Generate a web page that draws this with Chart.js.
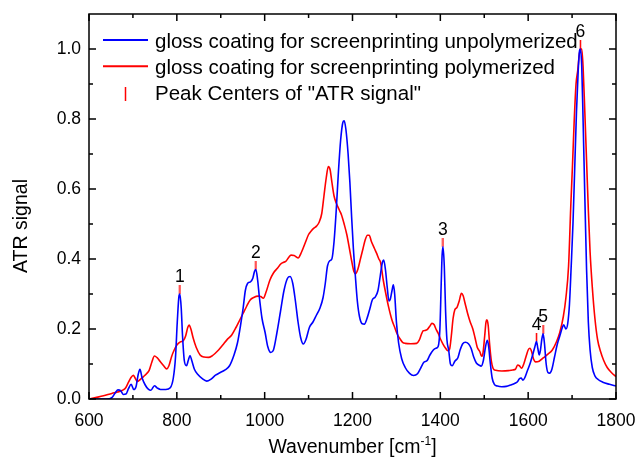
<!DOCTYPE html>
<html><head><meta charset="utf-8">
<script src="https://cdn.jsdelivr.net/npm/chart.js@4.4.0/dist/chart.umd.min.js"></script>
<style>html,body{margin:0;padding:0;background:#fff;}canvas{display:block;}</style>
</head><body>
<canvas id="c" width="637" height="460"></canvas>
<script>
// ---------- data ----------
const unpolyLabel = 'gloss coating for screenprinting unpolymerized';
const polyLabel = 'gloss coating for screenprinting polymerized';
const peakLegendLabel = 'Peak Centers of "ATR signal"';

const unpolyX = [
  600,640,652,660,666,672,678,684,690,696,
  702,707,712,716,721,728,735,741,749,755,
  763,775,785,792,797,801,805,807,810,813,
  817,822,826,830,834,840,848,858,868,878,
  888,898,910,920,930,938,945,951,956,961,
  968,973,977,980,984,988,994,1001,1007,1014,
  1020,1028,1036,1044,1052,1058,1064,1070,1076,1082,
  1088,1094,1102,1110,1118,1126,1133,1138,1143,1148,
  1153,1158,1163,1168,1173,1178,1181,1185,1190,1194,
  1198,1202,1206,1211,1216,1222,1227,1233,1240,1245,
  1252,1258,1263,1268,1271,1275,1279,1283,1286,1290,
  1293,1296,1300,1305,1312,1320,1330,1339,1348,1356,
  1362,1370,1376,1384,1390,1395,1399,1402,1404,1406,
  1409,1412,1415,1419,1423,1427,1433,1440,1445,1451,
  1457,1464,1470,1476,1482,1488,1493,1498,1503,1507,
  1510,1514,1518,1523,1530,1540,1550,1560,1570,1576,
  1580,1584,1588,1592,1598,1604,1610,1615,1619,1622,
  1625,1628,1631,1634,1637,1641,1645,1649,1654,1660,
  1666,1672,1678,1681,1686,1690,1694,1698,1702,1706,
  1710,1714,1717,1719,1722,1725,1729,1733,1737,1741,
  1746,1752,1760,1770,1785,1800];
const unpolyY = [
  0,0,0.004,0.018,0.026,0.024,0.013,0.014,0.03,0.042,
  0.027,0.035,0.07,0.085,0.06,0.04,0.028,0.025,0.038,0.032,
  0.027,0.027,0.032,0.06,0.12,0.22,0.295,0.30,0.26,0.18,
  0.11,0.095,0.11,0.124,0.11,0.085,0.07,0.058,0.051,0.057,
  0.068,0.075,0.083,0.095,0.125,0.16,0.21,0.26,0.31,0.33,
  0.335,0.345,0.365,0.37,0.34,0.29,0.23,0.19,0.15,0.133,
  0.14,0.19,0.25,0.31,0.345,0.35,0.33,0.28,0.22,0.175,
  0.157,0.17,0.205,0.22,0.24,0.26,0.29,0.33,0.38,0.395,
  0.40,0.45,0.54,0.65,0.74,0.79,0.795,0.77,0.70,0.62,
  0.52,0.43,0.36,0.28,0.235,0.215,0.214,0.23,0.26,0.283,
  0.292,0.31,0.35,0.39,0.397,0.37,0.32,0.28,0.285,0.31,
  0.326,0.30,0.22,0.16,0.115,0.09,0.073,0.067,0.072,0.09,
  0.104,0.11,0.125,0.14,0.145,0.15,0.2,0.33,0.41,0.435,
  0.38,0.25,0.17,0.14,0.10,0.095,0.108,0.118,0.14,0.158,
  0.162,0.158,0.145,0.12,0.103,0.097,0.094,0.11,0.15,0.168,
  0.15,0.10,0.06,0.042,0.037,0.035,0.036,0.04,0.045,0.05,
  0.058,0.06,0.054,0.06,0.08,0.10,0.125,0.148,0.164,0.145,
  0.126,0.14,0.17,0.186,0.16,0.10,0.076,0.074,0.085,0.12,
  0.155,0.18,0.205,0.212,0.20,0.215,0.27,0.38,0.50,0.66,
  0.82,0.94,0.995,1.0,0.95,0.80,0.58,0.37,0.22,0.14,
  0.09,0.066,0.055,0.048,0.042,0.037];

const polyX = [
  600,615,633,652,665,678,684,690,695,701,
  705,710,716,724,731,737,743,749,755,762,
  770,777,782,788,794,800,808,815,820,825,
  828,832,837,844,853,862,872,880,887,895,
  905,914,925,935,943,951,959,967,975,985,
  991,997,1003,1012,1020,1030,1036,1042,1048,1055,
  1060,1067,1076,1084,1092,1100,1106,1112,1118,1124,
  1130,1135,1140,1145,1149,1153,1158,1163,1170,1175,
  1181,1187,1193,1198,1203,1207,1212,1218,1224,1229,
  1234,1238,1243,1250,1255,1260,1264,1270,1276,1282,
  1290,1296,1301,1308,1314,1320,1333,1346,1352,1357,
  1361,1366,1370,1376,1381,1386,1390,1395,1400,1406,
  1412,1417,1421,1425,1429,1433,1438,1443,1448,1452,
  1456,1462,1468,1474,1479,1484,1490,1494,1497,1501,
  1504,1506,1509,1512,1516,1520,1526,1540,1555,1565,
  1571,1576,1580,1585,1590,1596,1600,1604,1608,1612,
  1617,1625,1635,1645,1655,1665,1672,1680,1686,1692,
  1697,1701,1705,1709,1713,1716,1719,1722,1725,1729,
  1733,1737,1741,1746,1752,1758,1765,1772,1780,1790,1800];
const polyY = [
  0,0.004,0.009,0.016,0.02,0.026,0.033,0.048,0.06,0.068,
  0.06,0.05,0.055,0.064,0.072,0.082,0.105,0.123,0.118,0.107,
  0.095,0.086,0.095,0.121,0.14,0.154,0.163,0.167,0.18,0.205,
  0.211,0.2,0.175,0.148,0.126,0.12,0.119,0.123,0.13,0.14,
  0.155,0.169,0.183,0.205,0.225,0.245,0.265,0.283,0.29,0.294,
  0.293,0.288,0.305,0.34,0.36,0.375,0.385,0.39,0.393,0.405,
  0.411,0.41,0.403,0.42,0.445,0.47,0.48,0.488,0.494,0.505,
  0.53,0.58,0.63,0.664,0.655,0.62,0.58,0.56,0.54,0.526,
  0.50,0.47,0.43,0.395,0.365,0.358,0.37,0.40,0.43,0.455,
  0.468,0.468,0.45,0.43,0.416,0.40,0.39,0.34,0.30,0.264,
  0.225,0.205,0.188,0.172,0.162,0.159,0.158,0.159,0.168,0.185,
  0.195,0.196,0.198,0.208,0.216,0.212,0.20,0.188,0.172,0.157,
  0.145,0.138,0.142,0.18,0.23,0.255,0.262,0.28,0.302,0.295,
  0.275,0.245,0.22,0.20,0.175,0.148,0.135,0.122,0.13,0.18,
  0.22,0.226,0.21,0.16,0.11,0.088,0.082,0.08,0.081,0.083,
  0.085,0.097,0.095,0.088,0.10,0.125,0.14,0.145,0.135,0.115,
  0.106,0.108,0.118,0.128,0.14,0.165,0.19,0.235,0.29,0.38,
  0.55,0.67,0.80,0.90,0.94,0.98,1.0,1.0,0.95,0.82,
  0.68,0.54,0.42,0.32,0.23,0.17,0.135,0.11,0.09,0.075,0.064];

const peakX = [807, 980, 1406, 1619, 1634, 1719];
const peakY = [0.30, 0.37, 0.435, 0.164, 0.186, 1.0];
const peakLabels = ['1', '2', '3', '4', '5', '6'];

const xTickVals = [600, 800, 1000, 1200, 1400, 1600, 1800];
const xMinorVals = [700, 900, 1100, 1300, 1500, 1700];
const yTickVals = [0, 0.2, 0.4, 0.6, 0.8, 1.0];
const yMinorVals = [0.1, 0.3, 0.5, 0.7, 0.9];

// ---------- styling helpers ----------
const FONT = '"Liberation Sans", Arial, sans-serif';
const BLUE = '#0000ff', RED = '#ff0000';
const MARK_LEN = 9;

function makeMarker(len, color) {
  const c = document.createElement('canvas');
  c.width = 3; c.height = len * 2;
  const g = c.getContext('2d');
  g.fillStyle = color;
  g.fillRect(0.75, 0, 1.5, len);
  return c;
}
const markerImg = makeMarker(MARK_LEN, RED);

const toPts = (xs, ys) => xs.map((x, i) => ({x: x, y: ys[i]}));

// ---------- plugins ----------
const frameTicks = {
  id: 'frameTicks',
  afterDatasetsDraw(chart) {
    const {ctx, chartArea: a, scales: {x, y}} = chart;
    ctx.save();
    ctx.strokeStyle = '#000';
    ctx.lineWidth = 1.5;
    ctx.beginPath();
    const vt = (vals, len) => vals.forEach(v => {
      const p = x.getPixelForValue(v);
      ctx.moveTo(p, a.bottom); ctx.lineTo(p, a.bottom - len);
      ctx.moveTo(p, a.top); ctx.lineTo(p, a.top + len);
    });
    const ht = (vals, len) => vals.forEach(v => {
      const p = y.getPixelForValue(v);
      ctx.moveTo(a.left, p); ctx.lineTo(a.left + len, p);
      ctx.moveTo(a.right, p); ctx.lineTo(a.right - len, p);
    });
    vt(xTickVals, 7); vt(xMinorVals, 4);
    ht(yTickVals, 7); ht(yMinorVals, 4);
    ctx.stroke();
    ctx.strokeRect(a.left, a.top, a.right - a.left, a.bottom - a.top);
    // peak labels
    const meta = chart.getDatasetMeta(2);
    ctx.fillStyle = '#000';
    ctx.font = '17.5px ' + FONT;
    ctx.textAlign = 'center';
    ctx.textBaseline = 'alphabetic';
    meta.data.forEach((el, i) => {
      ctx.fillText(peakLabels[i], el.x, el.y - MARK_LEN - 3);
    });
    ctx.restore();
  }
};

const legendAndTitles = {
  id: 'legendAndTitles',
  afterDraw(chart) {
    const {ctx, chartArea: a} = chart;
    const ds = chart.data.datasets;
    ctx.save();
    // legend
    ctx.font = '20.5px ' + FONT;
    ctx.fillStyle = '#000';
    ctx.textAlign = 'left';
    ctx.textBaseline = 'alphabetic';
    const sx0 = a.left + 14, sx1 = a.left + 59, tx = a.left + 66;
    const rows = [a.top + 33.5, a.top + 59.8, a.top + 86];
    [0, 1].forEach(i => {
      ctx.strokeStyle = ds[i].borderColor;
      ctx.lineWidth = 2;
      ctx.beginPath();
      ctx.moveTo(sx0, rows[i] - 7.5); ctx.lineTo(sx1, rows[i] - 7.5);
      ctx.stroke();
      ctx.fillText(ds[i].label, tx, rows[i]);
    });
    ctx.strokeStyle = RED; ctx.lineWidth = 1.5;
    ctx.beginPath();
    const mx = (sx0 + sx1) / 2;
    ctx.moveTo(mx, rows[2] - 13); ctx.lineTo(mx, rows[2] + 1);
    ctx.stroke();
    ctx.fillText(ds[2].label, tx, rows[2]);

    // x title with superscript
    const cx = (a.left + a.right) / 2;
    const base = 453;
    const mainF = '19.5px ' + FONT, supF = '12px ' + FONT;
    const p1 = 'Wavenumber [cm', p2 = '-1', p3 = ']';
    ctx.font = mainF; const w1 = ctx.measureText(p1).width, w3 = ctx.measureText(p3).width;
    ctx.font = supF; const w2 = ctx.measureText(p2).width;
    let x0 = cx - (w1 + w2 + w3) / 2;
    ctx.font = mainF; ctx.fillText(p1, x0, base);
    ctx.font = supF; ctx.fillText(p2, x0 + w1, base - 8);
    ctx.font = mainF; ctx.fillText(p3, x0 + w1 + w2, base);

    // y title
    ctx.translate(27, 226);
    ctx.rotate(-Math.PI / 2);
    ctx.textAlign = 'center';
    ctx.font = mainF;
    ctx.fillText('ATR signal', 0, 0);
    ctx.restore();
  }
};

// ---------- chart ----------
new Chart(document.getElementById('c'), {
  type: 'line',
  data: {
    datasets: [
      {label: unpolyLabel, data: toPts(unpolyX, unpolyY), borderColor: BLUE,
       borderWidth: 1.6, pointRadius: 0, fill: false, cubicInterpolationMode: 'monotone'},
      {label: polyLabel, data: toPts(polyX, polyY), borderColor: RED,
       borderWidth: 1.6, pointRadius: 0, fill: false, cubicInterpolationMode: 'monotone'},
      {label: peakLegendLabel, data: toPts(peakX, peakY), borderColor: RED, backgroundColor: RED,
       showLine: false, pointStyle: markerImg, pointRadius: 5, pointHoverRadius: 5}
    ]
  },
  options: {
    responsive: false,
    animation: false,
    events: [],
    layout: {padding: {top: 14, right: 21, left: 0, bottom: 0}},
    plugins: {legend: {display: false}, tooltip: {enabled: false}, title: {display: false}},
    scales: {
      x: {
        type: 'linear', min: 600, max: 1800,
        afterBuildTicks: s => { s.ticks = xTickVals.map(v => ({value: v})); },
        afterFit: s => { s.height = 61; s.paddingLeft = 0; s.paddingRight = 0; },
        grid: {display: false, drawTicks: false},
        border: {display: false},
        ticks: {color: '#000', font: {family: FONT, size: 17.5}, padding: 12,
                maxRotation: 0, autoSkip: false, callback: v => String(v)}
      },
      y: {
        type: 'linear', min: 0, max: 1.1,
        afterBuildTicks: s => { s.ticks = yTickVals.map(v => ({value: v})); },
        afterFit: s => { s.width = 89; s.paddingTop = 0; s.paddingBottom = 0; },
        grid: {display: false, drawTicks: false},
        border: {display: false},
        ticks: {color: '#000', font: {family: FONT, size: 17.5}, padding: 8,
                autoSkip: false, callback: v => Number(v).toFixed(1)}
      }
    }
  },
  plugins: [frameTicks, legendAndTitles]
});
</script>
</body></html>
